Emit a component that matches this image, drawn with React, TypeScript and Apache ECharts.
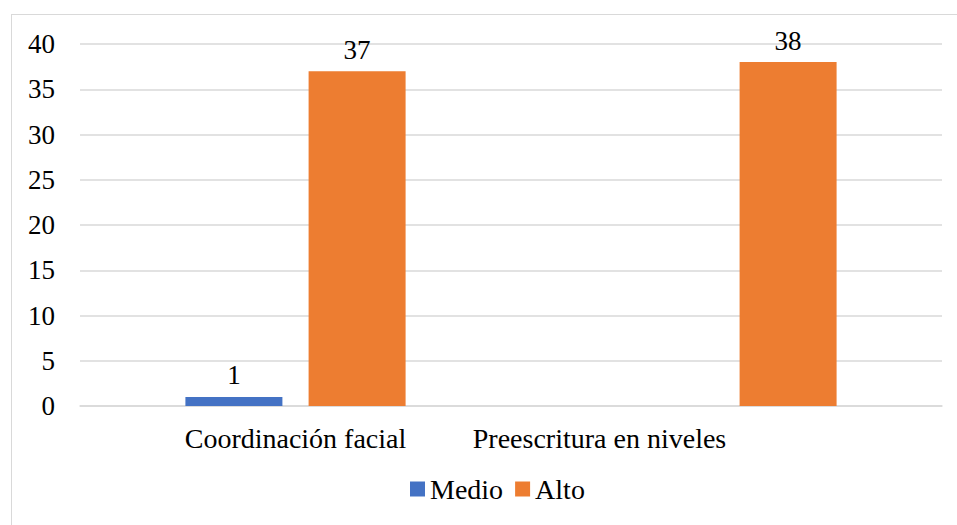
import React, { useEffect, useRef } from "react";
import * as echarts from "echarts";

const categories = ["Coordinación facial", "Preescritura en niveles"];
const medioValues: (number | null)[] = [1, null];
const altoValues: (number | null)[] = [37, 38];
const seriesNames = ["Medio", "Alto"];

const FONT = "serif";

export default function App() {
  const ref = useRef<HTMLDivElement>(null);
  useEffect(() => {
    if (!ref.current) return;
    const chart = echarts.init(ref.current, undefined, { renderer: "svg" });
    chart.setOption({
      animation: false,
      textStyle: { fontFamily: FONT, fontWeight: "normal" },
      grid: { left: 80, right: 15, top: 44, bottom: 119 },
      legend: {
        data: seriesNames,
        bottom: 17,
        left: 405,
        icon: "rect",
        itemWidth: 15,
        itemHeight: 15,
        itemGap: 12,
        textStyle: { fontFamily: FONT, fontWeight: "normal", fontSize: 28, color: "#000" },
      },
      xAxis: {
        type: "category",
        data: categories,
        axisLine: { lineStyle: { color: "#d9d9d9", width: 1.5 } },
        axisTick: { show: false },
        axisLabel: {
          fontFamily: FONT,
          fontWeight: "normal",
          fontSize: 28,
          color: "#000",
          margin: 18,
          interval: 0,
          formatter: (v: string, i: number) => (i === 1 ? "{b|" + v + "}" : "{a|" + v + "}"),
          rich: {
            a: { fontFamily: FONT, fontSize: 28, color: "#000" },
            b: { fontFamily: FONT, fontSize: 28, color: "#000", padding: [0, 254, 0, 0] },
          },
        },
      },
      yAxis: {
        type: "value",
        min: 0,
        max: 40,
        interval: 5,
        axisLine: { show: false },
        axisTick: { show: false },
        splitLine: { lineStyle: { color: "#d9d9d9", width: 1.5 } },
        axisLabel: { fontFamily: FONT, fontWeight: "normal", fontSize: 27, color: "#000", margin: 25 },
      },
      series: [
        {
          name: seriesNames[0],
          type: "bar",
          data: medioValues,
          barWidth: 97,
          barGap: "27%",
          itemStyle: { color: "#4472C4" },
          label: { show: true, position: "top", distance: 8, fontFamily: FONT, fontSize: 27, color: "#000" },
        },
        {
          name: seriesNames[1],
          type: "bar",
          data: altoValues,
          barWidth: 97,
          barGap: "27%",
          itemStyle: { color: "#ED7D31" },
          label: { show: true, position: "top", distance: 8, fontFamily: FONT, fontSize: 27, color: "#000" },
        },
      ],
    });
    return () => chart.dispose();
  }, []);
  return (
    <div style={{ position: "absolute", left: 0, top: 0, width: 957, height: 525, overflow: "hidden", background: "#fff" }}>
      <div
        style={{
          position: "absolute",
          left: 11,
          top: 14,
          width: 1000,
          height: 600,
          border: "1.5px solid #d9d9d9",
          boxSizing: "border-box",
        }}
      />
      <div ref={ref} style={{ position: "absolute", left: 0, top: 0, width: 957, height: 525 }} />
    </div>
  );
}
